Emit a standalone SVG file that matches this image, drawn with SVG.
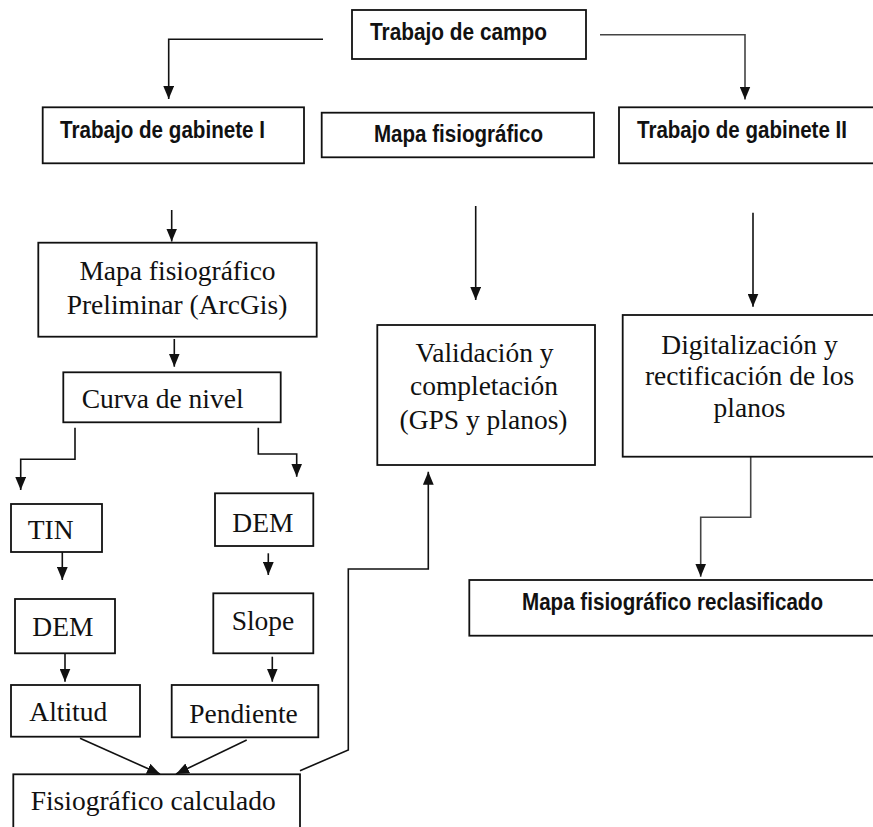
<svg xmlns="http://www.w3.org/2000/svg" width="873" height="827" viewBox="0 0 873 827">
<style>
.box{fill:#fff;stroke:#111;stroke-width:1.8}
.b{font-family:"Liberation Sans",Arial,sans-serif;font-weight:bold;font-size:23px;fill:#111}
.s{font-family:"Liberation Serif","Times New Roman",serif;font-size:27.5px;fill:#111}
.m{text-anchor:middle}
.c{fill:none;stroke:#111;stroke-width:1.6}
.g{stroke:#444}
</style>
<defs>
<marker id="ah" viewBox="0 0 12 10" refX="12" refY="5" markerWidth="13" markerHeight="11" markerUnits="userSpaceOnUse" orient="auto">
<path d="M0,0 L12,5 L0,10 z" fill="#111"/>
</marker>
</defs>
<rect width="873" height="827" fill="#fff"/>
<g id="connectors">
<path class="c" marker-end="url(#ah)" d="M323,39.3 H168.7 V99"/>
<path class="c g" marker-end="url(#ah)" d="M600,34.7 H745 V99.5"/>
<path class="c" marker-end="url(#ah)" d="M171.7,210 V241.5"/>
<path class="c" marker-end="url(#ah)" d="M475.7,206 V300"/>
<path class="c" marker-end="url(#ah)" d="M753,212.7 V306.7"/>
<path class="c" marker-end="url(#ah)" d="M174.3,339 V366.7"/>
<path class="c" marker-end="url(#ah)" d="M75,427.7 V459.3 H20.7 V490"/>
<path class="c" marker-end="url(#ah)" d="M258.3,427.7 V454 H296.7 V476.7"/>
<path class="c" marker-end="url(#ah)" d="M62.3,552 V580"/>
<path class="c" marker-end="url(#ah)" d="M65,653 V681.7"/>
<path class="c" marker-end="url(#ah)" d="M268.3,553.3 V575"/>
<path class="c" marker-end="url(#ah)" d="M272.3,656.7 V681.7"/>
<path class="c" marker-end="url(#ah)" d="M80,738.3 L160,774"/>
<path class="c" marker-end="url(#ah)" d="M246.7,740 L176,774"/>
<path class="c" marker-end="url(#ah)" d="M300,770.7 L348.3,750 V569 H428.3 V471.7"/>
<path class="c g" marker-end="url(#ah)" d="M750.7,456.7 V517.3 H700.7 V576.7"/>
</g>
<g id="campo"><rect class="box" x="352" y="10" width="234" height="49"/><text class="b" x="370" y="40" textLength="177" lengthAdjust="spacingAndGlyphs">Trabajo de campo</text></g>
<g id="gab1"><rect class="box" x="42.7" y="107.3" width="261.3" height="56"/><text class="b" x="60" y="137.5" textLength="205" lengthAdjust="spacingAndGlyphs">Trabajo de gabinete I</text></g>
<g id="mapafis"><rect class="box" x="321.7" y="112.7" width="272.3" height="44.6"/><text class="b" x="374" y="142" textLength="169" lengthAdjust="spacingAndGlyphs">Mapa fisiográfico</text></g>
<g id="gab2"><rect class="box" x="619" y="107.3" width="262" height="56"/><text class="b" x="637" y="138" textLength="210" lengthAdjust="spacingAndGlyphs">Trabajo de gabinete II</text></g>
<g id="preliminar"><rect class="box" x="38.3" y="242.7" width="278.4" height="94"/><text class="s m" x="177.5" y="280">Mapa fisiográfico</text><text class="s m" x="177" y="314">Preliminar (ArcGis)</text></g>
<g id="curva"><rect class="box" x="63.3" y="372.3" width="217.4" height="50"/><text class="s" x="81.7" y="408">Curva de nivel</text></g>
<g id="validacion"><rect class="box" x="377.3" y="325" width="217.7" height="140"/><text class="s m" x="484.5" y="361.5">Validación y</text><text class="s m" x="484" y="395">completación</text><text class="s m" x="483.5" y="429">(GPS y planos)</text></g>
<g id="digitalizacion"><rect class="box" x="622.7" y="315" width="260" height="141.7"/><text class="s m" x="749.5" y="354">Digitalización y</text><text class="s m" x="749.5" y="385">rectificación de los</text><text class="s m" x="749.5" y="416.5">planos</text></g>
<g id="reclasificado"><rect class="box" x="469.3" y="580" width="412" height="55.7"/><text class="b" x="522" y="609.5" textLength="301" lengthAdjust="spacingAndGlyphs">Mapa fisiográfico reclasificado</text></g>
<g id="tin"><rect class="box" x="11" y="504" width="91" height="48"/><text class="s" x="27.7" y="539">TIN</text></g>
<g id="dem1"><rect class="box" x="15" y="599" width="100" height="54.3"/><text class="s" x="32.3" y="635.7">DEM</text></g>
<g id="altitud"><rect class="box" x="11" y="685" width="129" height="51.7"/><text class="s" x="29.3" y="721">Altitud</text></g>
<g id="dem2"><rect class="box" x="215" y="493.3" width="98.3" height="52.7"/><text class="s" x="232.3" y="531.7">DEM</text></g>
<g id="slope"><rect class="box" x="213.3" y="593.3" width="100" height="60"/><text class="s" x="231.7" y="630">Slope</text></g>
<g id="pendiente"><rect class="box" x="171.7" y="685" width="146.6" height="52.3"/><text class="s" x="189.3" y="722.7">Pendiente</text></g>
<g id="calculado"><rect class="box" x="13.3" y="774.3" width="286.7" height="62"/><text class="s" x="30.7" y="810">Fisiográfico calculado</text></g>
</svg>
